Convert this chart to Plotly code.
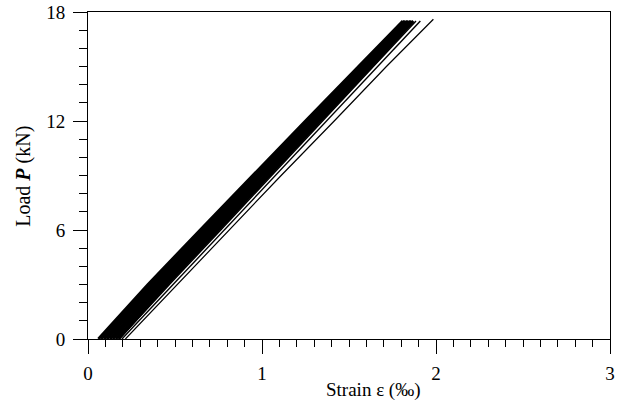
import plotly.graph_objects as go

# Load levels (kN) at which strains are read for each loading line
load_levels = [0, 3, 6, 9, 12, 15, 17.5]
load_levels_long = [0, 3, 6, 9, 12, 15, 17.6]

# Strain (per mille) of the dense bundle of loading lines
band_1 = [0.060, 0.345, 0.645, 0.945, 1.250, 1.555, 1.810]
band_2 = [0.076, 0.361, 0.660, 0.959, 1.262, 1.566, 1.819]
band_3 = [0.093, 0.376, 0.675, 0.972, 1.274, 1.576, 1.827]
band_4 = [0.109, 0.392, 0.690, 0.986, 1.286, 1.587, 1.836]
band_5 = [0.126, 0.408, 0.705, 0.999, 1.299, 1.598, 1.844]
band_6 = [0.142, 0.424, 0.720, 1.013, 1.311, 1.609, 1.853]
band_7 = [0.159, 0.439, 0.735, 1.026, 1.323, 1.619, 1.861]
band_8 = [0.175, 0.455, 0.750, 1.040, 1.335, 1.630, 1.870]
band_lines = [band_1, band_2, band_3, band_4, band_5, band_6, band_7, band_8]

# Separate thinner loading lines on the right of the bundle
thin_1 = [0.180, 0.468, 0.763, 1.053, 1.348, 1.640, 1.885]
thin_2 = [0.195, 0.488, 0.783, 1.078, 1.368, 1.663, 1.910]
thin_3 = [0.215, 0.512, 0.810, 1.110, 1.415, 1.715, 1.985]

x_ticks = [0, 1, 2, 3]
y_ticks = [0, 6, 12, 18]

fig = go.Figure()
for strains in band_lines:
    fig.add_trace(go.Scatter(x=strains, y=load_levels, mode="lines",
                             line=dict(color="black", width=3),
                             showlegend=False, hoverinfo="skip"))
for strains in [thin_1, thin_2]:
    fig.add_trace(go.Scatter(x=strains, y=load_levels, mode="lines",
                             line=dict(color="black", width=1.4),
                             showlegend=False, hoverinfo="skip"))
fig.add_trace(go.Scatter(x=thin_3, y=load_levels_long, mode="lines",
                         line=dict(color="black", width=1.2),
                         showlegend=False, hoverinfo="skip"))

font_family = "Liberation Serif, Times New Roman, serif"

fig.update_layout(
    width=626, height=406,
    margin=dict(l=88, r=16, t=12, b=67),
    paper_bgcolor="white", plot_bgcolor="white",
    font=dict(family=font_family, size=19, color="black"),
    xaxis=dict(range=[0, 3], tickvals=x_ticks, ticktext=[str(v) for v in x_ticks],
               showgrid=False, zeroline=False, showline=True, linecolor="black",
               linewidth=1, mirror=True, ticks="outside", ticklen=14, tickwidth=1,
               tickcolor="black", ticklabelstandoff=3, automargin=False,
               minor=dict(dtick=0.1, ticks="outside", ticklen=7, tickcolor="black",
                          tickwidth=1, showgrid=False)),
    yaxis=dict(range=[0, 18], tickvals=y_ticks, ticktext=[str(v) for v in y_ticks],
               showgrid=False, zeroline=False, showline=True, linecolor="black",
               linewidth=1, mirror=True, ticks="outside", ticklen=14, tickwidth=1,
               tickcolor="black", ticklabelstandoff=4, automargin=False,
               minor=dict(dtick=1, ticks="outside", ticklen=8, tickcolor="black",
                          tickwidth=1, showgrid=False)),
    annotations=[
        dict(text="Strain ε (‰)", xref="paper", yref="paper", x=0.547, y=-0.156,
             xanchor="center", yanchor="middle", showarrow=False,
             font=dict(family=font_family, size=19, color="black")),
        dict(text="Load&nbsp;<b><i>P</i></b>&nbsp;(kN)", xref="paper", yref="paper",
             x=-0.124, y=0.497, xanchor="center", yanchor="middle", textangle=-90,
             showarrow=False, font=dict(family=font_family, size=20, color="black")),
    ],
)

fig.write_html("out.html", config={"displayModeBar": False},
               post_script="document.body.style.margin='0';document.body.style.overflow='hidden';")
